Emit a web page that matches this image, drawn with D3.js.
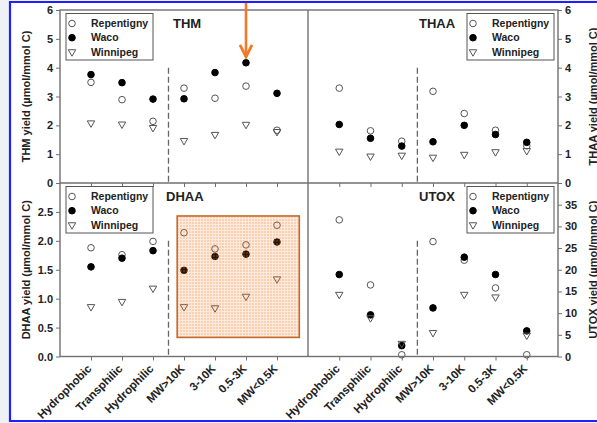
<!DOCTYPE html>
<html>
<head>
<meta charset="utf-8">
<script src="https://cdn.jsdelivr.net/npm/d3@7"></script>
<style>
   body { margin: 0; background: #eef1f6; }
   svg { display: block; font-family: Arial, "Liberation Sans", sans-serif; font-weight: bold; }
</style>
</head>
<body>
<svg id="chart" width="597" height="423"></svg>
<script>
// Categories along the x axis (same for all four panels)
var categories = ["Hydrophobic", "Transphilic", "Hydrophilic", "MW>10K", "3-10K", "0.5-3K", "MW<0.5K"];
var siteNames = ["Repentigny", "Waco", "Winnipeg"];

// THM yield (µmol/mmol C)
var thmRepentigny = [3.49, 2.89, 2.14, 3.29, 2.94, 3.36, 1.83];
var thmWaco       = [3.76, 3.48, 2.91, 2.92, 3.83, 4.17, 3.11];
var thmWinnipeg   = [2.08, 2.04, 1.92, 1.47, 1.68, 2.03, 1.78];

// THAA yield (µmol/mmol C)
var thaaRepentigny = [3.29, 1.81, 1.45, 3.18, 2.41, 1.83, 1.29];
var thaaWaco       = [2.03, 1.55, 1.28, 1.43, 2.00, 1.68, 1.41];
var thaaWinnipeg   = [1.10, 0.93, 0.96, 0.89, 0.99, 1.08, 1.12];

// DHAA yield (µmol/mmol C)
var dhaaRepentigny = [1.88, 1.76, 1.99, 2.14, 1.86, 1.93, 2.27];
var dhaaWaco       = [1.55, 1.70, 1.83, 1.49, 1.73, 1.77, 1.98];
var dhaaWinnipeg   = [0.86, 0.95, 1.18, 0.86, 0.84, 1.04, 1.34];

// UTOX yield (µmol/mmol C)
var utoxRepentigny = [31.5, 16.5, 0.4, 26.5, 22.2, 15.8, 0.4];
var utoxWaco       = [18.9, 9.6, 2.5, 11.2, 22.9, 18.9, 5.9];
var utoxWinnipeg   = [14.3, 8.9, 3.0, 5.5, 14.3, 13.7, 4.9];

// Tick labels
var thmTicks  = [0, 1, 2, 3, 4, 5, 6];
var thaaTicks = [0, 1, 2, 3, 4, 5, 6];
var dhaaTicks = [0, 0.5, 1.0, 1.5, 2.0, 2.5];
var utoxTicks = [0, 5, 10, 15, 20, 25, 30, 35];

var svg = d3.select("#chart");

// screenshot background + blue frame
svg.append("rect").attr("x", 10).attr("y", 2).attr("width", 600).attr("height", 419).attr("fill", "#fff");
svg.append("path").attr("d", "M600,2H10V421H600")
   .attr("fill", "none").attr("stroke", "#1f1fff").attr("stroke-width", 2.2);

// hatch pattern for the highlighted box
var defs = svg.append("defs");
var pat = defs.append("pattern").attr("id", "hatch").attr("patternUnits", "userSpaceOnUse")
   .attr("width", 3).attr("height", 3);
pat.append("rect").attr("width", 3).attr("height", 3).attr("fill", "#f07a28").attr("fill-opacity", 0.16);
pat.append("rect").attr("width", 2).attr("height", 2).attr("fill", "#f07a28").attr("fill-opacity", 0.24);

// plot edges (note: "top" is reserved on window, so use other names)
var plotLeft = 60, plotMid = 308, plotRight = 558, plotTop = 10, plotMidY = 183, plotBottom = 356.5;

var xL = d3.scaleLinear().domain([0, 8]).range([plotLeft, plotMid]);
var xR = d3.scaleLinear().domain([0, 8]).range([plotMid, plotRight]);
var yThm  = d3.scaleLinear().domain([0, 6]).range([plotMidY, plotTop]);
var yThaa = d3.scaleLinear().domain([0, 6]).range([plotMidY, plotTop]);
var yDhaa = d3.scaleLinear().domain([0, 3]).range([plotBottom, plotMidY]);
var yUtox = d3.scaleLinear().domain([0, 40]).range([plotBottom, plotMidY]);

var panels = [
   {title: "THM",  x: xL, y: yThm,  series: [thmRepentigny, thmWaco, thmWinnipeg],
    ticks: thmTicks, fmt: d3.format("d"), side: "left", lower: false,
    label: "THM yield (\u00b5mol/mmol C)"},
   {title: "THAA", x: xR, y: yThaa, series: [thaaRepentigny, thaaWaco, thaaWinnipeg],
    ticks: thaaTicks, fmt: d3.format("d"), side: "right", lower: false,
    label: "THAA yield (\u00b5mol/mmol C)"},
   {title: "DHAA", x: xL, y: yDhaa, series: [dhaaRepentigny, dhaaWaco, dhaaWinnipeg],
    ticks: dhaaTicks, fmt: d3.format(".1f"), side: "left", lower: true,
    label: "DHAA yield (\u00b5mol/mmol C)"},
   {title: "UTOX", x: xR, y: yUtox, series: [utoxRepentigny, utoxWaco, utoxWinnipeg],
    ticks: utoxTicks, fmt: d3.format("d"), side: "right", lower: true,
    label: "UTOX yield (\u00b5mol/mmol C)"}
];

var axisColor = "#707070";
var triangle = d3.symbol().type(d3.symbolTriangle).size(24);

function drawMarker(sel, k) {
   if (k === 2) {
      sel.append("path").attr("d", triangle)
         .attr("transform", function(d) { return "translate(" + d[0] + "," + d[1] + ") rotate(180)"; })
         .attr("fill", "none").attr("stroke", "#555").attr("stroke-width", 1);
   } else {
      sel.append("circle").attr("cx", function(d) { return d[0]; }).attr("cy", function(d) { return d[1]; })
         .attr("r", 3.3)
         .attr("fill", k === 1 ? "#000" : "none")
         .attr("stroke", k === 1 ? "#000" : "#555").attr("stroke-width", 1);
   }
}

panels.forEach(function(p) {
   var g = svg.append("g");
   var x0 = p.x.range()[0], x1 = p.x.range()[1];
   var yb = p.y.range()[0], yt = p.y.range()[1];

   // dashed separator between the fraction types
   g.append("line")
      .attr("x1", p.x(3.5)).attr("x2", p.x(3.5))
      .attr("y1", p.y(p.y.domain()[1] * 2 / 3)).attr("y2", yb)
      .attr("stroke", "#666").attr("stroke-width", 1.3).attr("stroke-dasharray", "6,3");

   // y axis
   var ax = (p.side === "left" ? d3.axisLeft(p.y) : d3.axisRight(p.y))
      .tickValues(p.ticks).tickFormat(p.fmt).tickSize(4).tickPadding(3);
   var ga = g.append("g")
      .attr("transform", "translate(" + (p.side === "left" ? plotLeft : plotRight) + ",0)")
      .call(ax);
   ga.select(".domain").remove();
   ga.selectAll("line").attr("stroke", axisColor);
   ga.selectAll("text").attr("font-size", 11).attr("fill", "#222");

   // x axis ticks
   var xa = d3.axisBottom(p.x).tickValues(d3.range(1, 8)).tickSize(4)
      .tickFormat(function(d) { return p.lower ? categories[d - 1] : ""; });
   var gx = g.append("g").attr("transform", "translate(0," + yb + ")").call(xa);
   gx.select(".domain").remove();
   gx.selectAll("line").attr("stroke", axisColor);
   gx.selectAll("text")
      .attr("font-size", 11.5).attr("fill", "#222")
      .attr("text-anchor", "end")
      .attr("x", 0).attr("y", 0).attr("dy", "0.35em")
      .attr("transform", "translate(-2,10) rotate(-45)");

   // points
   p.series.forEach(function(vals, k) {
      var pts = vals.map(function(v, i) { return [p.x(i + 1), p.y(v)]; });
      var sel = g.append("g").selectAll("g").data(pts).enter().append("g");
      sel.each(function(d) { drawMarker(d3.select(this).datum(d), k); });
   });

   // title
   g.append("text").attr("x", x0 + (p.side === "left" ? (p.lower ? 106 : 113) : 111))
      .attr("y", yt + 18).attr("font-size", 13).attr("fill", "#222").text(p.title);

   // legend
   var lx = p.side === "left" ? x0 + 6 : x1 - 4 - 87;
   var lg = g.append("g").attr("transform", "translate(" + lx + "," + (yt + 3.5) + ")");
   lg.append("rect").attr("width", 87).attr("height", 46.5)
      .attr("fill", "#fff").attr("stroke", "#555").attr("stroke-width", 1);
   siteNames.forEach(function(name, k) {
      var ry = 10 + k * 14.2;
      var m = lg.append("g").datum([6, ry]);
      drawMarker(m, k);
      lg.append("text").attr("x", 25).attr("y", ry).attr("dy", "0.35em")
         .attr("font-size", 10.5).attr("fill", "#222").text(name);
   });

   // axis title (the right-hand ones run off the edge, as in the original screenshot)
   var tx = p.side === "left" ? 30 : 597;
   g.append("text")
      .attr("transform", "translate(" + tx + "," + ((yb + yt) / 2) + ") rotate(-90)")
      .attr("text-anchor", "middle").attr("font-size", 11).attr("fill", "#222").text(p.label);
});

// frame and panel dividers
svg.append("rect").attr("x", plotLeft).attr("y", plotTop)
   .attr("width", plotRight - plotLeft).attr("height", plotBottom - plotTop)
   .attr("fill", "none").attr("stroke", axisColor).attr("stroke-width", 1.4);
svg.append("line").attr("x1", plotMid).attr("x2", plotMid).attr("y1", plotTop).attr("y2", plotBottom)
   .attr("stroke", axisColor).attr("stroke-width", 1.4);
svg.append("line").attr("x1", plotLeft).attr("x2", plotRight).attr("y1", plotMidY).attr("y2", plotMidY)
   .attr("stroke", axisColor).attr("stroke-width", 1.4);

// highlighted MW fractions in DHAA (translucent overlay)
svg.append("rect")
   .attr("x", xL(3.78)).attr("y", yDhaa(2.43))
   .attr("width", xL(7.72) - xL(3.78)).attr("height", yDhaa(0.33) - yDhaa(2.43))
   .attr("fill", "url(#hatch)").attr("stroke", "#c46a2c").attr("stroke-width", 1.6);

// orange arrow pointing at THM Waco 0.5-3K
var ax0 = xL(6), tip = yThm(thmWaco[5]) - 6;
svg.append("line").attr("x1", ax0).attr("x2", ax0).attr("y1", 3).attr("y2", tip)
   .attr("stroke", "#f07a28").attr("stroke-width", 2.6);
svg.append("path")
   .attr("d", "M" + (ax0 - 6) + "," + (tip - 12) + "L" + ax0 + "," + tip + "L" + (ax0 + 6) + "," + (tip - 12))
   .attr("fill", "none").attr("stroke", "#f07a28").attr("stroke-width", 2.8).attr("stroke-linejoin", "miter");
</script>
</body>
</html>
